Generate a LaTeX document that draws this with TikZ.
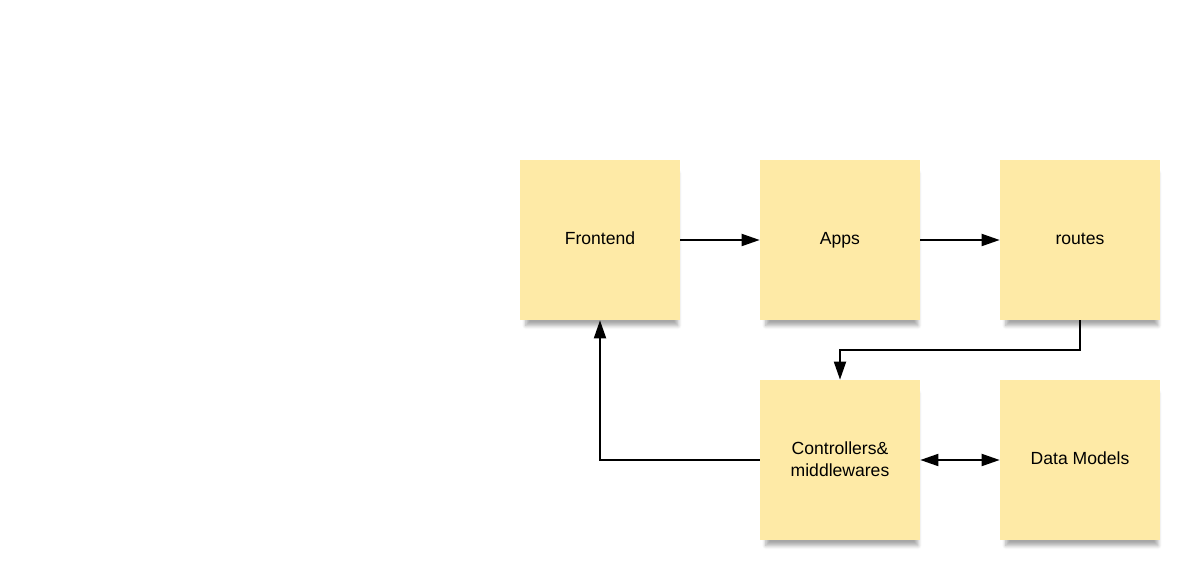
\documentclass[tikz,border=0pt]{standalone}
\usepackage{fontspec}
\setmainfont{Liberation Sans}
\usetikzlibrary{arrows.meta,shadows.blur}
\definecolor{notefill}{HTML}{FEEAA6}

\tikzset{
  note/.style={fill=notefill, minimum size=3.2cm, inner sep=2pt, align=center,
    font=\fontsize{10}{12.5}\selectfont,
    blur shadow={shadow xshift=0.04cm, shadow yshift=-0.2cm, shadow scale=0.95,
      shadow opacity=35, shadow blur steps=6, shadow blur radius=0.08cm}},
  oneline/.style={text height=0.72em, text depth=0.2em},
  link/.style={line width=1.1pt, -{Triangle[length=0.36cm,width=0.24cm]}}
}

\begin{document}
\begin{tikzpicture}[x=0.02cm, y=-0.02cm]
  \useasboundingbox (0,0) rectangle (1200,580);
  \node[note, oneline] (frontend) at (600,240) {Frontend};
  \node[note, oneline] (apps) at (840,240) {Apps};
  \node[note, oneline] (routes) at (1080,240) {routes};
  \node[note] (ctrl) at (840,460) {\raisebox{1.2pt}{Controllers\&}\\\raisebox{1.2pt}{middlewares}};
  \node[note, oneline] (models) at (1080,460) {Data Models};
  % Draw the connectors
  \draw[link] (frontend) -- (apps);
  \draw[link] (apps) -- (routes);
  \draw[link] (routes.south) -- ++(0,30) -| (ctrl.north);
  \draw[link] (ctrl.west) -| (frontend.south);
  \draw[link, {Triangle[length=0.36cm,width=0.24cm]}-{Triangle[length=0.36cm,width=0.24cm]}] (ctrl) -- (models);
\end{tikzpicture}
\end{document}
